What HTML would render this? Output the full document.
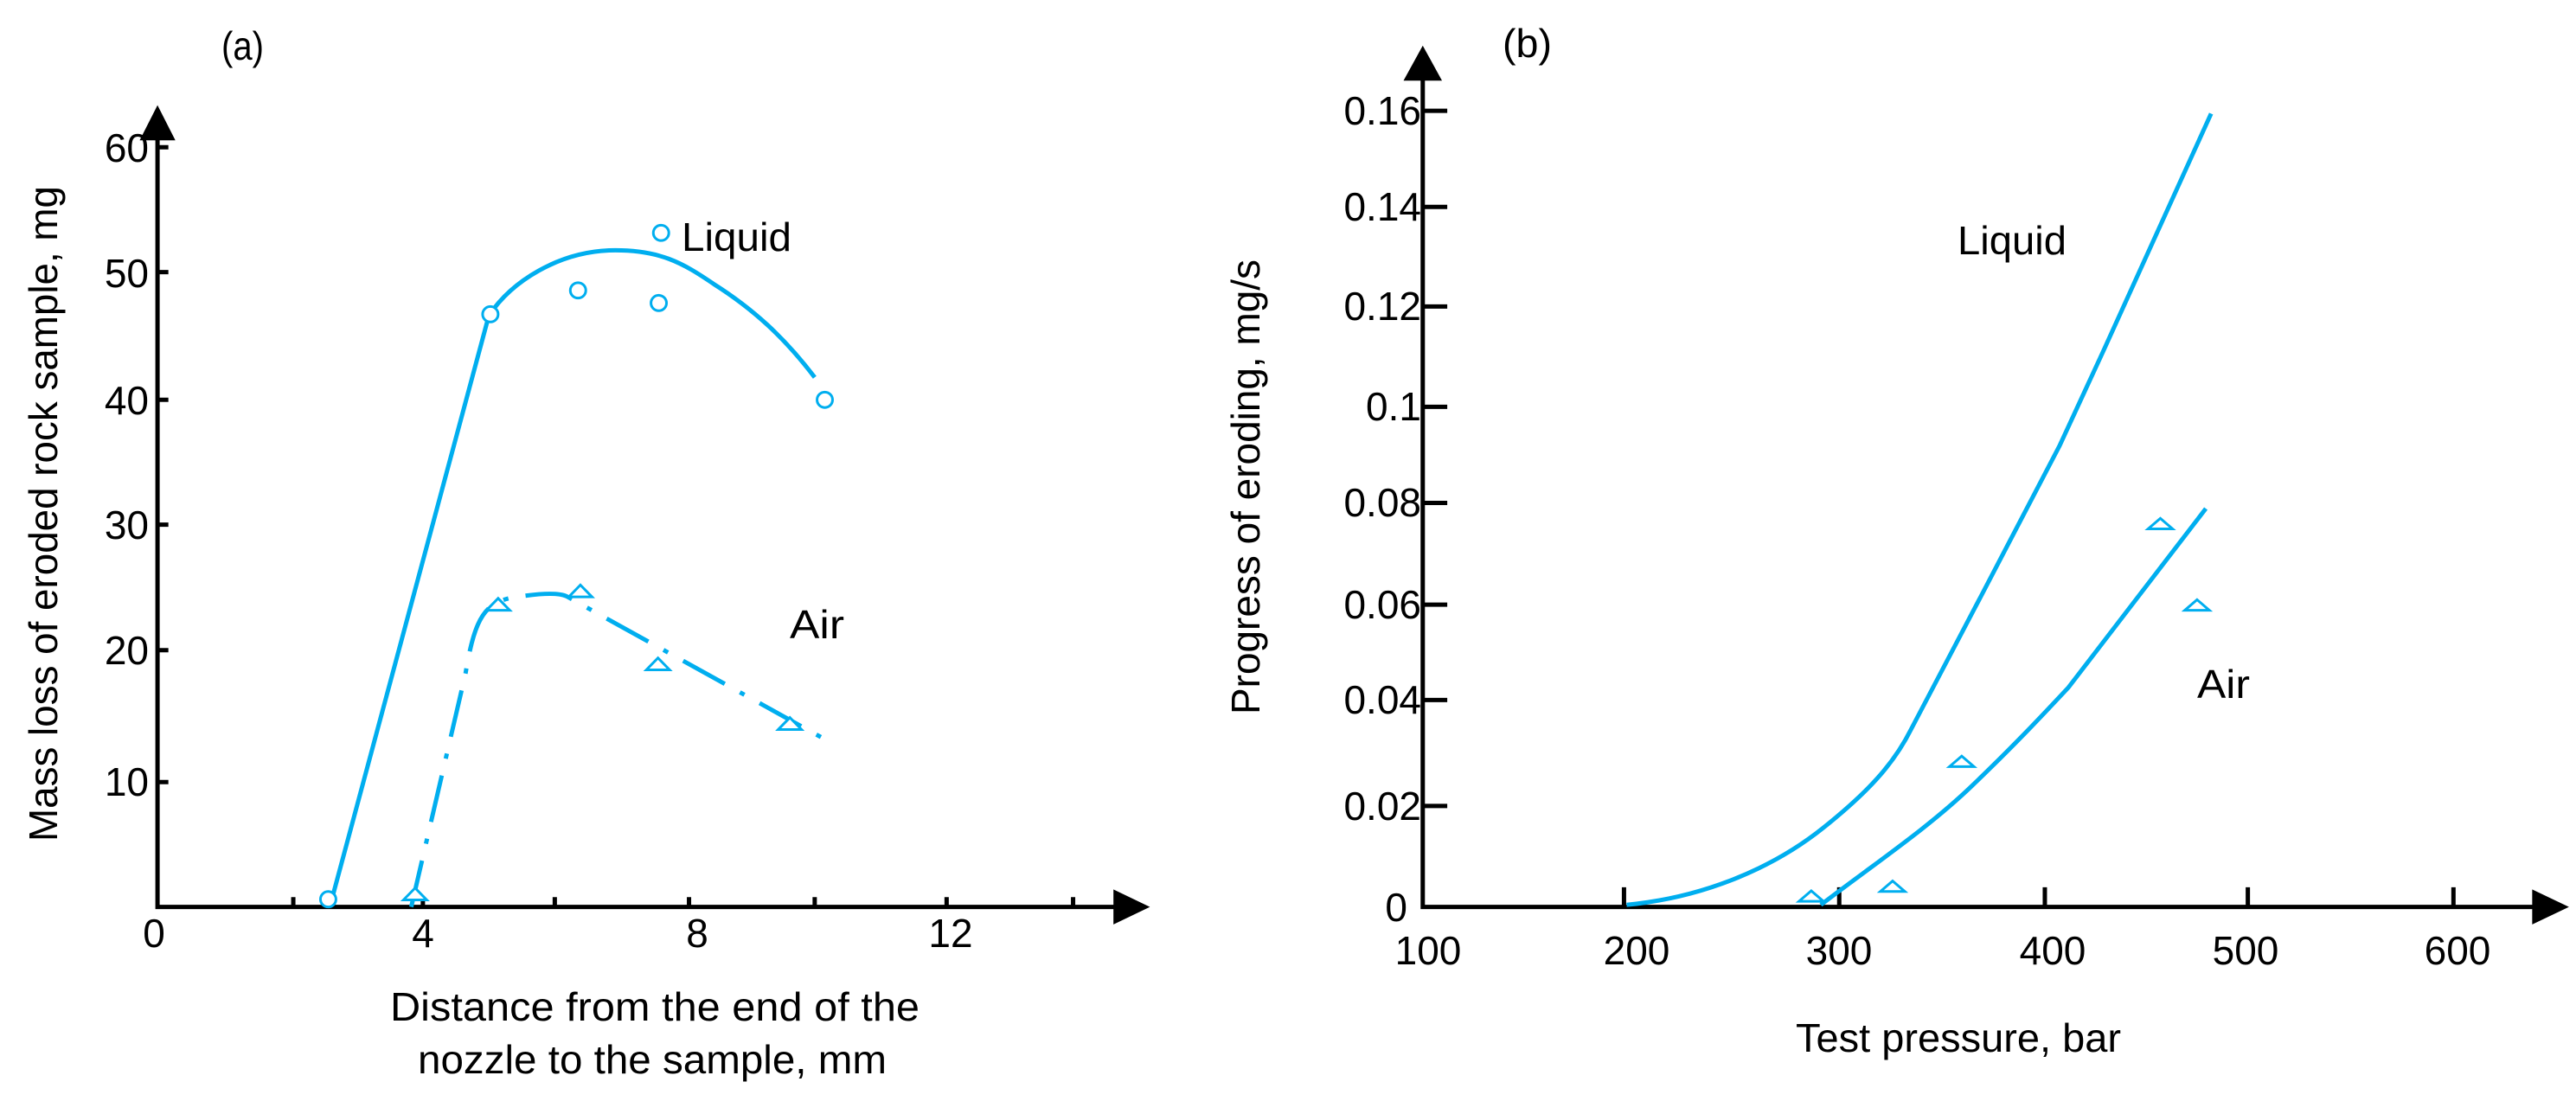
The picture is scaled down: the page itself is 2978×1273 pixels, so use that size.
<!DOCTYPE html>
<html><head><meta charset="utf-8"><style>html,body{margin:0;padding:0;background:#fff}svg{display:block}text{font-family:"Liberation Sans",sans-serif;fill:#000}</style></head>
<body>
<svg width="2978" height="1273" viewBox="0 0 2978 1273" xmlns="http://www.w3.org/2000/svg">
<g transform="scale(0.897,0.811)">
 <g stroke="#000" stroke-width="5" fill="none" vector-effect="non-scaling-stroke">
  <path d="M203,190 L203,1293 L1440,1293" vector-effect="non-scaling-stroke"/>
  <path d="M378,1293v-14M545,1293v-14M715,1293v-14M888,1293v-14M1050,1293v-14M1220,1293v-14M1383,1293v-14M203,210h14M203,388h14M203,570h14M203,748h14M203,927h14M203,1115h14" vector-effect="non-scaling-stroke"/>
 </g>
 <path d="M203,150 L180,200 L226,200Z M1482,1293 L1435,1268 L1435,1318Z" fill="#000"/>
 <g stroke="#00aeef" stroke-width="5" fill="none">
  <path d="M425,1293 L630,450 C660,400 720,360 785,357 C850,355 880,375 920,405 C970,440 1010,480 1050,538" vector-effect="non-scaling-stroke"/>
  <path d="M530,1293 L600,960 C612,880 625,860 660,852 C700,845 720,845 730,850 L1068,1057" stroke-dasharray="55,20,6,20" vector-effect="non-scaling-stroke"/>
 </g>
 <g stroke="#00aeef" stroke-width="3" fill="#fff">
  <ellipse cx="423" cy="1282" rx="10" ry="11" vector-effect="non-scaling-stroke"/>
  <ellipse cx="632" cy="448" rx="10" ry="11" vector-effect="non-scaling-stroke"/>
  <ellipse cx="745" cy="414" rx="10" ry="11" vector-effect="non-scaling-stroke"/>
  <ellipse cx="849" cy="432" rx="10" ry="11" vector-effect="non-scaling-stroke"/>
  <ellipse cx="852" cy="332" rx="10" ry="11" vector-effect="non-scaling-stroke"/>
  <ellipse cx="1063" cy="570" rx="10" ry="11" vector-effect="non-scaling-stroke"/>
  <path d="M520,1283 L535,1266 L550,1283Z M627,870 L642,853 L657,870Z M733,851 L748,834 L763,851Z M833,955 L848,938 L863,955Z M1003,1040 L1018,1023 L1033,1040Z" vector-effect="non-scaling-stroke"/>
 </g>
</g>
<g transform="translate(1400,0) scale(1.0115,0.811)">
 <g stroke="#000" stroke-width="5" fill="none">
  <path d="M242,105 L242,1293 L1515,1293" vector-effect="non-scaling-stroke"/>
  <path d="M472,1293v-28M718,1293v-28M953,1293v-28M1185,1293v-28M1420,1293v-28M242,158h28M242,295h28M242,437h28M242,580h28M242,717h28M242,862h28M242,998h28M242,1149h28" vector-effect="non-scaling-stroke"/>
 </g>
 <path d="M242,65 L220,115 L264,115Z M1552,1293 L1510,1268 L1510,1318Z" fill="#000"/>
 <g stroke="#00aeef" stroke-width="5" fill="none">
  <path d="M475,1290 C560,1280 640,1240 700,1180 C750,1130 780,1090 800,1040 L880,850 L970,635 L1020,500 L1143,162" vector-effect="non-scaling-stroke"/>
  <path d="M697,1290 C760,1230 820,1180 870,1120 C920,1060 950,1020 980,980 L1137,725" vector-effect="non-scaling-stroke"/>
 </g>
 <g stroke="#00aeef" stroke-width="3" fill="#fff">
  <path d="M672,1285 L686,1270 L700,1285Z M765,1271 L779,1256 L793,1271Z M844,1093 L858,1078 L872,1093Z M1071,754 L1085,739 L1099,754Z M1113,870 L1127,855 L1141,870Z" vector-effect="non-scaling-stroke"/>
 </g>
</g>
<!-- left texts -->
<g font-size="46">
 <text x="256" y="69" textLength="49" lengthAdjust="spacingAndGlyphs">(a)</text>
 <g text-anchor="end">
  <text x="172" y="187">60</text><text x="172" y="332">50</text><text x="172" y="479">40</text><text x="172" y="623">30</text><text x="172" y="768">20</text><text x="172" y="920">10</text>
 </g>
 <g text-anchor="middle">
  <text x="178" y="1095">0</text><text x="489" y="1095">4</text><text x="806" y="1095">8</text><text x="1099" y="1095">12</text>
 </g>
 <text x="451" y="1180" textLength="612" lengthAdjust="spacingAndGlyphs">Distance from the end of the</text>
 <text x="483" y="1241" textLength="542" lengthAdjust="spacingAndGlyphs">nozzle to the sample, mm</text>
 <text transform="translate(66,594) rotate(-90)" text-anchor="middle" textLength="758" lengthAdjust="spacingAndGlyphs">Mass loss of eroded rock sample, mg</text>
 <text x="788" y="290" textLength="127" lengthAdjust="spacingAndGlyphs">Liquid</text>
 <text x="913" y="738" textLength="63" lengthAdjust="spacingAndGlyphs">Air</text>
</g>
<!-- right texts -->
<g font-size="46">
 <text x="1737" y="66" textLength="57" lengthAdjust="spacingAndGlyphs">(b)</text>
 <g text-anchor="end">
  <text x="1643" y="144">0.16</text><text x="1643" y="255">0.14</text><text x="1643" y="370">0.12</text><text x="1643" y="486">0.1</text><text x="1643" y="597">0.08</text><text x="1643" y="715">0.06</text><text x="1643" y="825">0.04</text><text x="1643" y="948">0.02</text><text x="1627" y="1065">0</text>
 </g>
 <g text-anchor="middle">
  <text x="1651" y="1115">100</text><text x="1892" y="1115">200</text><text x="2126" y="1115">300</text><text x="2373" y="1115">400</text><text x="2596" y="1115">500</text><text x="2841" y="1115">600</text>
 </g>
 <text x="2076" y="1216" textLength="376" lengthAdjust="spacingAndGlyphs">Test pressure, bar</text>
 <text transform="translate(1456,563) rotate(-90)" text-anchor="middle" textLength="526" lengthAdjust="spacingAndGlyphs">Progress of eroding, mg/s</text>
 <text x="2263" y="294" textLength="126" lengthAdjust="spacingAndGlyphs">Liquid</text>
 <text x="2540" y="807" textLength="61" lengthAdjust="spacingAndGlyphs">Air</text>
</g>
</svg>
</body></html>
